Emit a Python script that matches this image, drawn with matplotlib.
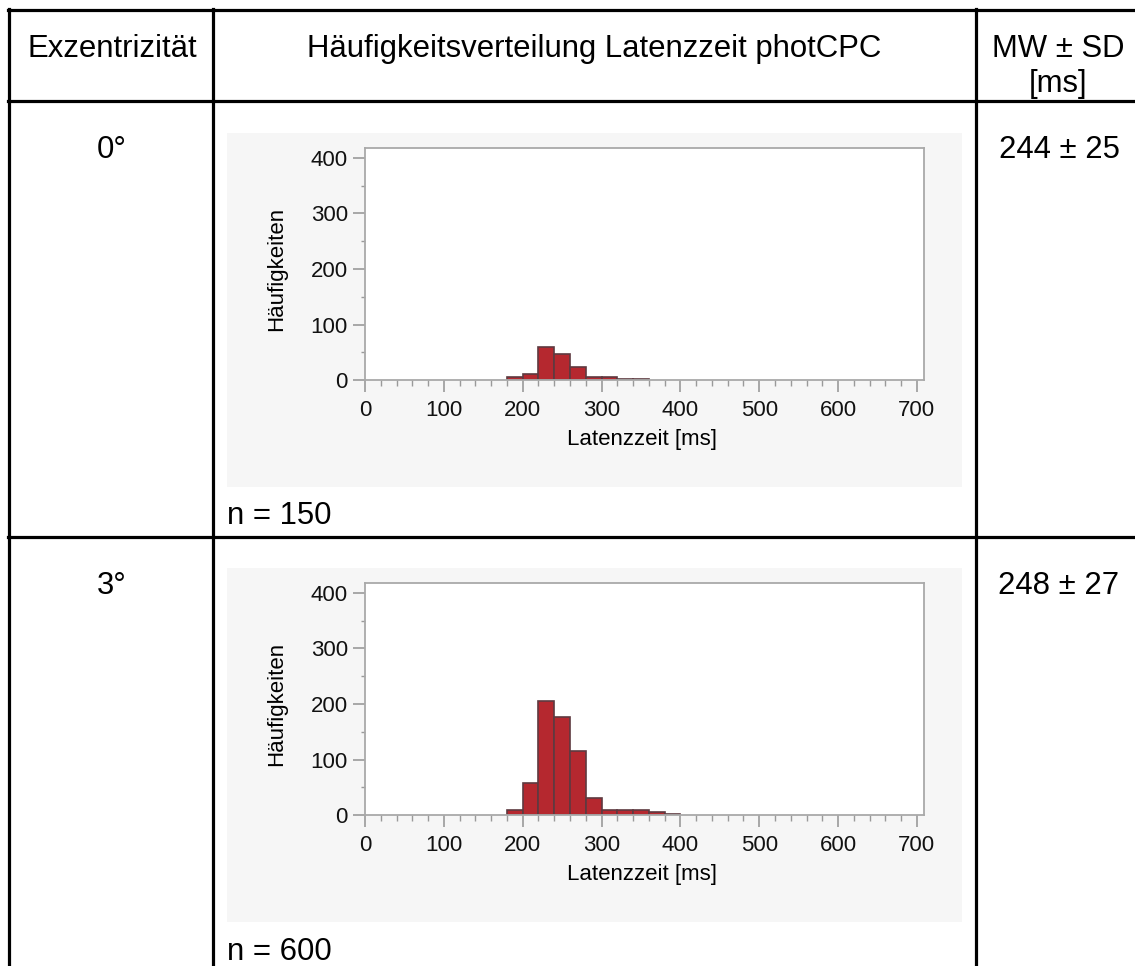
import matplotlib
matplotlib.use("Agg")
import matplotlib.pyplot as plt
from matplotlib.lines import Line2D
from matplotlib.patches import Rectangle
from matplotlib.ticker import MultipleLocator

plt.rcParams['font.family'] = ['Liberation Sans', 'DejaVu Sans']

# Daten aus der Tabelle
header_labels = ["Exzentrizität", "Häufigkeitsverteilung Latenzzeit photCPC", "MW ± SD", "[ms]"]
exzentrizitaet = ["0°", "3°"]
mw_sd = ["244 ± 25", "248 ± 27"]
n_werte = ["n = 150", "n = 600"]

# Histogramm-Klassen (Start der Klasse, Breite 20 ms)
bins_0 = [180, 200, 220, 240, 260, 280, 300, 320, 340]
counts_0 = [5, 12, 60, 48, 24, 5, 5, 2, 2]
bins_3 = [180, 200, 220, 240, 260, 280, 300, 320, 340, 360, 380]
counts_3 = [10, 57, 206, 177, 115, 31, 10, 10, 10, 6, 3]
bin_width = 20

W, H = 1135, 966
fig = plt.figure(figsize=(W / 100, H / 100), dpi=100)


# Pixel (von oben links) -> Figure-Koordinaten
def fx(x):
    return x / W


def fy(y):
    return 1 - y / H


def hline(y, x0, x1):
    fig.add_artist(Line2D([fx(x0), fx(x1)], [fy(y), fy(y)], color='black', lw=2.3))


def vline(x, y0, y1):
    fig.add_artist(Line2D([fx(x), fx(x)], [fy(y0), fy(y1)], color='black', lw=2.3))


# Tabellenlinien
hline(10, 8, W)
hline(100.5, 8, W)
hline(536.5, 8, W)
vline(9, 9, H)
vline(213, 9, H)
vline(976, 9, H)

# Kopfzeile
txt_size = 22.4
fig.text(fx(112), fy(57), header_labels[0], ha='center', va='baseline', fontsize=txt_size)
fig.text(fx(594), fy(57), header_labels[1], ha='center', va='baseline', fontsize=txt_size)
fig.text(fx(1058), fy(57), header_labels[2], ha='center', va='baseline', fontsize=txt_size)
fig.text(fx(1058), fy(92), header_labels[3], ha='center', va='baseline', fontsize=txt_size)

row_tops = [100.5, 536.5]
panel_tops = [132.7, 568.3]
axes_tops = [147.7, 582.7]
n_base = [524, 960]
data = [(bins_0, counts_0), (bins_3, counts_3)]

for i in range(2):
    top = row_tops[i]
    fig.text(fx(112), fy(top + 58), exzentrizitaet[i], ha='center', va='baseline', fontsize=txt_size)
    fig.text(fx(1059), fy(top + 58), mw_sd[i], ha='center', va='baseline', fontsize=txt_size)
    fig.text(fx(227), fy(n_base[i]), n_werte[i], ha='left', va='baseline', fontsize=txt_size)

    # grauer Hintergrund des Diagramms
    pt = panel_tops[i]
    fig.add_artist(Rectangle((fx(226.7), fy(pt + 354)), fx(735), 354 / H,
                             facecolor='#f6f6f6', edgecolor='none', zorder=0))

    at = axes_tops[i]
    ax = fig.add_axes([fx(365), fy(at + 232.5), 559 / W, 232.5 / H])
    ax.set_facecolor('white')
    b, c = data[i]
    ax.bar(b, c, width=bin_width, align='edge', color='#b5282f', edgecolor='#5e3a40', linewidth=1.2)
    ax.set_xlim(0, 709)
    ax.set_ylim(0, 418)
    ax.xaxis.set_major_locator(MultipleLocator(100))
    ax.xaxis.set_minor_locator(MultipleLocator(20))
    ax.yaxis.set_major_locator(MultipleLocator(100))
    ax.yaxis.set_minor_locator(MultipleLocator(50))
    ax.set_xticks(range(0, 701, 100))
    ax.set_yticks(range(0, 401, 100))
    for s in ax.spines.values():
        s.set_color('#a9a9a9')
        s.set_linewidth(1.3)
    ax.tick_params(which='major', length=8.3, width=1.2, color='#9a9a9a', labelsize=16, pad=4,
                   labelcolor='#111111')
    ax.tick_params(axis='x', which='major', pad=6)
    ax.tick_params(which='minor', length=4.5, width=1.0, color='#9a9a9a')
    ax.tick_params(axis='y', which='minor', length=3)
    ax.set_xlabel("Latenzzeit [ms]", fontsize=16)
    ax.set_ylabel("Häufigkeiten", fontsize=16)
    ax.xaxis.set_label_coords(0.496, -0.21)
    ax.yaxis.set_label_coords(-0.14, 0.478)

fig.savefig("out.png", dpi=100)
